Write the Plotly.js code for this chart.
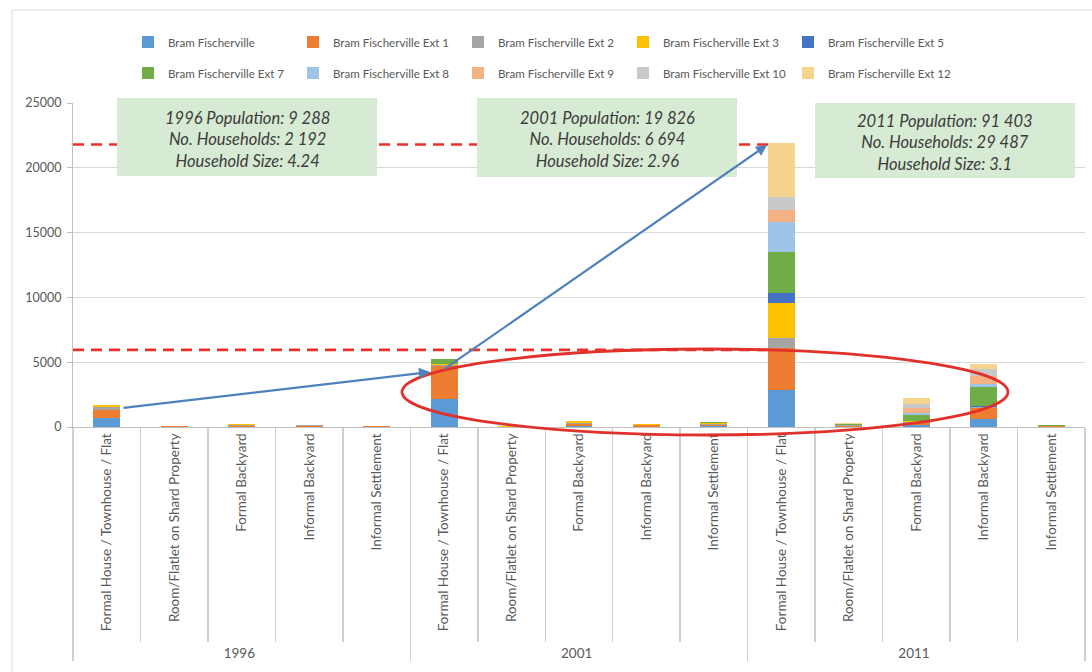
<!DOCTYPE html>
<html>
<head>
<meta charset="utf-8">
<script src="https://cdn.plot.ly/plotly-3.0.1.min.js"></script>
<style>html,body{margin:0;padding:0;background:#fff;}#chart{width:1092px;height:672px;}</style>
</head>
<body>
<div id="chart"></div>
<script>
// ---- data ----
const years = ["1996", "2001", "2011"];
const dwellingTypes = ["Formal House / Townhouse / Flat", "Room/Flatlet on Shard Property", "Formal Backyard", "Informal Backyard", "Informal Settlement"];
const seriesNames = ["Bram Fischerville", "Bram Fischerville Ext 1", "Bram Fischerville Ext 2", "Bram Fischerville Ext 3", "Bram Fischerville Ext 5",
                     "Bram Fischerville Ext 7", "Bram Fischerville Ext 8", "Bram Fischerville Ext 9", "Bram Fischerville Ext 10", "Bram Fischerville Ext 12"];
// values per category: 1996 (5 types), 2001 (5 types), 2011 (5 types)
const bram  = [700, 20, 30, 20, 10, 2170, 10, 50, 30, 40, 2860, 30, 150, 600, 20];
const ext1  = [620, 30, 80, 60, 30, 2550, 15, 180, 90, 130, 3250, 70, 150, 850, 40];
const ext2  = [250, 20, 50, 40, 20, 80, 10, 110, 60, 80, 770, 40, 60, 60, 20];
const ext3  = [110, 20, 40, 30, 20, 60, 10, 90, 40, 70, 2700, 40, 80, 60, 20];
const ext5  = [0, 0, 0, 0, 0, 30, 0, 10, 5, 5, 770, 10, 60, 50, 5];
const ext7  = [20, 0, 0, 0, 0, 370, 0, 60, 25, 25, 3170, 20, 400, 1450, 15];
const ext8  = [0, 0, 0, 0, 0, 0, 0, 0, 0, 0, 2320, 15, 150, 250, 10];
const ext9  = [0, 0, 0, 0, 0, 0, 0, 0, 0, 0, 930, 15, 450, 650, 10];
const ext10 = [0, 0, 0, 0, 0, 0, 0, 0, 0, 0, 1000, 15, 300, 500, 10];
const ext12 = [0, 0, 0, 0, 0, 0, 0, 0, 0, 0, 4180, 25, 400, 400, 20];
const seriesValues = [bram, ext1, ext2, ext3, ext5, ext7, ext8, ext9, ext10, ext12];
const seriesColors = ["#5B9BD5", "#ED7D31", "#A5A5A5", "#FFC000", "#4472C4", "#70AD47", "#9DC3E6", "#F4B183", "#C9C9C9", "#F7D48E"];
const referenceLines = [21800, 5950];
const boxTexts = [
  ["1996 Population: 9 288", "No. Households: 2 192", "Household Size: 4.24"],
  ["2001 Population: 19 826", "No. Households: 6 694", "Household Size: 2.96"],
  ["2011 Population: 91 403", "No. Households: 29 487", "Household Size: 3.1"]
];
const yTicks = [0, 5000, 10000, 15000, 20000, 25000];

// ---- layout helpers (pixel -> paper) ----
const L = 73, R = 1085, T = 103, B = 427;
const px = v => (v - L) / (R - L);
const py = v => (B - v) / (B - T);

const outer = [], inner = [];
years.forEach(y => dwellingTypes.forEach(d => { outer.push(y); inner.push(d); }));

const FONT = "Lato, 'Open Sans', sans-serif";
const traces = seriesNames.map((n, i) => ({
  type: "bar",
  name: n,
  x: [outer, inner],
  y: seriesValues[i],
  marker: {color: seriesColors[i], line: {width: 0}},
  legend: i < 5 ? "legend" : "legend2",
  hoverinfo: "skip"
}));

const legendCommon = {
  orientation: "h", xanchor: "left", yanchor: "middle",
  x: px(128), bgcolor: "rgba(0,0,0,0)", borderwidth: 0,
  font: {family: FONT, size: 11.6, color: "#595959"},
  entrywidth: 120, entrywidthmode: "pixels", traceorder: "normal",
  itemclick: false, itemdoubleclick: false
};

const shapes = [];
// outer frame
shapes.push({type: "rect", xref: "paper", yref: "paper", x0: px(12), x1: px(1110), y0: py(700), y1: py(10),
  line: {color: "#d9d9d9", width: 1}, fillcolor: "rgba(0,0,0,0)", layer: "below"});
// red dashed reference lines
referenceLines.forEach(v => shapes.push({type: "line", xref: "paper", yref: "y", x0: 0, x1: px(768), y0: v, y1: v,
  line: {color: "#E8322B", width: 2.6, dash: "11px,7px"}, layer: "above"}));
// green info boxes
const boxes = [[117, 377, 98, 176], [477, 737, 98, 177], [815, 1075, 103, 178]];
boxes.forEach(b => shapes.push({type: "rect", xref: "paper", yref: "paper", x0: px(b[0]), x1: px(b[1]), y0: py(b[3]), y1: py(b[2]),
  fillcolor: "#D7EAD3", line: {width: 0}, layer: "above"}));
// red ellipse
shapes.push({type: "circle", xref: "paper", yref: "paper", x0: px(402), x1: px(1008), y0: py(435), y1: py(349),
  line: {color: "#E0312B", width: 2.8}, fillcolor: "rgba(0,0,0,0)", layer: "above"});

const annotations = [];
boxes.forEach((b, i) => annotations.push({
  xref: "paper", yref: "paper", x: px((b[0] + b[1]) / 2), y: py((b[2] + b[3]) / 2 + 2),
  xanchor: "center", yanchor: "middle", showarrow: false,
  text: "<i>" + boxTexts[i].join("<br>") + "</i>",
  font: {family: FONT, size: 16.5, color: "#3c3c3c"}
}));
// blue arrows
annotations.push({xref: "paper", yref: "paper", x: px(430), y: py(372), ax: 122 - 430, ay: 408 - 372,
  text: "", showarrow: true, arrowhead: 2, arrowsize: 1, arrowwidth: 2.2, arrowcolor: "#4F81BD", standoff: 0});
annotations.push({xref: "paper", yref: "paper", x: px(767), y: py(145), ax: 443 - 767, ay: 370 - 145,
  text: "", showarrow: true, arrowhead: 2, arrowsize: 1, arrowwidth: 2.2, arrowcolor: "#4F81BD", standoff: 0});

const layout = {
  width: 1092, height: 672,
  margin: {l: L, r: 1092 - R, t: T, b: 672 - B, pad: 0},
  paper_bgcolor: "#ffffff", plot_bgcolor: "#ffffff",
  barmode: "stack", bargap: 0.6,
  font: {family: FONT, size: 12, color: "#595959"},
  showlegend: true,
  legend: Object.assign({}, legendCommon, {y: py(42)}),
  legend2: Object.assign({}, legendCommon, {y: py(73)}),
  xaxis: {
    type: "multicategory", automargin: false,
    tickangle: -90, tickson: "boundaries", ticks: "outside", ticklen: 214, tickcolor: "#cfcfcf", tickwidth: 1.5,
    showline: true, linecolor: "#bfbfbf", linewidth: 1,
    showdividers: true, dividercolor: "#cfcfcf", dividerwidth: 1.5,
    tickfont: {family: FONT, size: 13.5, color: "#595959"},
    showgrid: false, fixedrange: true
  },
  yaxis: {
    range: [0, 25000], tickvals: yTicks, tickformat: "d", automargin: false,
    showgrid: true, gridcolor: "#d9d9d9", gridwidth: 1,
    showline: true, linecolor: "#bfbfbf", linewidth: 1,
    ticks: "outside", ticklen: 5, tickcolor: "#bfbfbf", ticklabelstandoff: 3,
    tickfont: {family: FONT, size: 12.5, color: "#595959"},
    zeroline: false, fixedrange: true
  },
  shapes: shapes,
  annotations: annotations,
  hovermode: false
};

Plotly.newPlot("chart", traces, layout, {displayModeBar: false, staticPlot: true});
</script>
</body>
</html>
